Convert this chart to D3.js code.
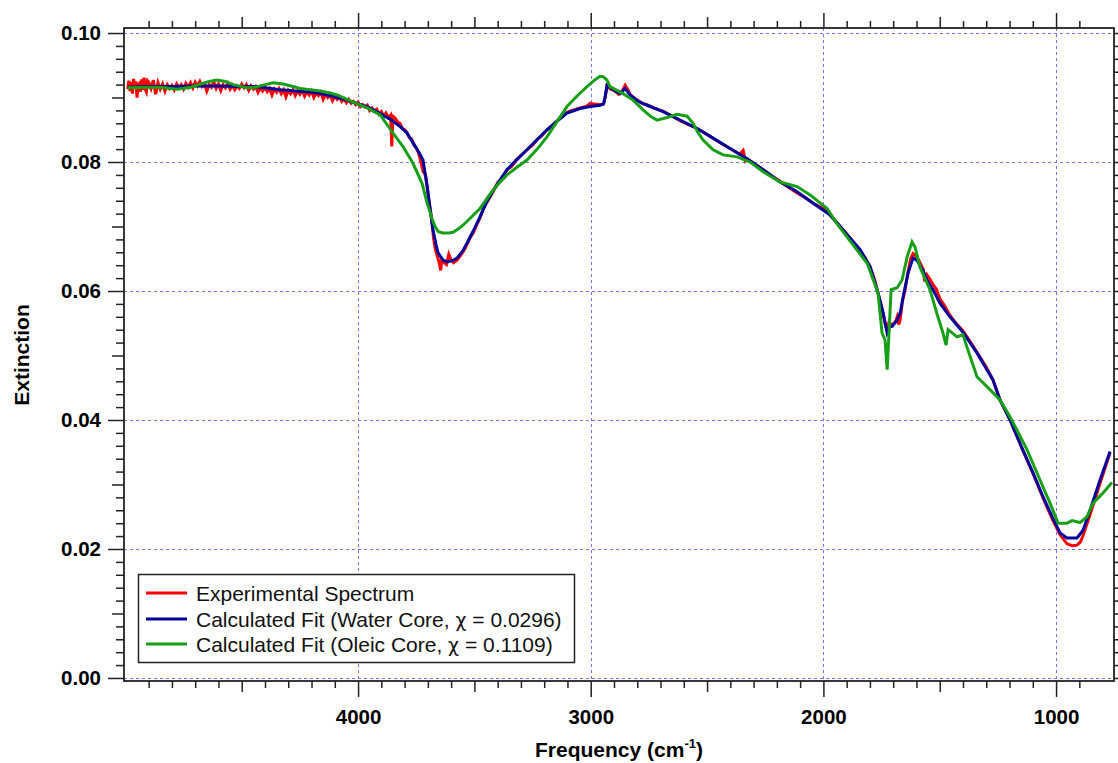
<!DOCTYPE html>
<html>
<head>
<meta charset="utf-8">
<script src="https://cdn.jsdelivr.net/npm/d3@7"></script>
<style>
  body { margin: 0; background: #fff; }
  svg { display: block; }
  text { font-family: "Liberation Sans", Arial, sans-serif; }
</style>
</head>
<body>
<svg id="chart" width="1118" height="763"></svg>
<script>
// Measured extinction spectrum: [frequency (cm^-1), extinction]
const experimental = [
  [4990,.0913],[4985,.0926],[4980,.0910],[4975,.0924],[4970,.0906],[4965,.0929],[4960,.0914],[4955,.0925],
  [4950,.0900],[4945,.0920],[4940,.0922],[4935,.0909],[4930,.0928],[4925,.0912],[4920,.0931],[4915,.0913],
  [4910,.0909],[4905,.0926],[4900,.0924],[4890,.0914],[4880,.0927],[4870,.0905],[4860,.0923],[4850,.0913],[4840,.0921],
  [4830,.0910],[4820,.0920],[4810,.0914],[4800,.0919],[4790,.0912],[4780,.0921],[4770,.0915],[4760,.0920],
  [4750,.0913],[4740,.0922],[4730,.0916],[4720,.0923],[4710,.0915],[4700,.0924],[4690,.0918],[4680,.0925],
  [4670,.0917],[4660,.0921],[4650,.0910],[4640,.0920],[4630,.0916],[4620,.0924],[4610,.0914],[4600,.0921],
  [4590,.0911],[4580,.0920],[4570,.0915],[4560,.0922],[4550,.0913],[4540,.0919],[4530,.0912],[4520,.0918],
  [4510,.0914],[4500,.0921],[4490,.0915],[4480,.0920],[4470,.0911],[4460,.0918],[4450,.0913],[4440,.0917],
  [4430,.0908],[4420,.0915],[4410,.0910],[4400,.0916],[4390,.0909],[4380,.0914],[4370,.0904],[4360,.0913],
  [4350,.0908],[4340,.0914],[4330,.0906],[4320,.0912],[4310,.0901],[4300,.0911],[4290,.0906],[4280,.0912],
  [4270,.0903],[4260,.0910],[4250,.0905],[4240,.0911],[4230,.0902],[4220,.0909],[4210,.0904],[4200,.0910],
  [4190,.0900],[4180,.0907],[4170,.0903],[4160,.0908],[4150,.0897],[4140,.0905],[4130,.0900],[4120,.0904],
  [4110,.0895],[4100,.0902],[4090,.0897],[4080,.0901],[4070,.0894],[4060,.0898],[4050,.0892],[4040,.0897],
  [4030,.0891],[4020,.0894],[4010,.0889],[4000,.0893],[3990,.0886],[3980,.0889],[3970,.0885],[3960,.0888],
  [3950,.0880],[3940,.0884],[3930,.0879],[3920,.0882],[3910,.0874],[3900,.0878],[3890,.0871],[3880,.0876],
  [3870,.0869],[3860,.0873],[3855,.0824],[3850,.0871],[3840,.0868],[3830,.0862],[3820,.0860],[3810,.0852],
  [3800,.0850],[3790,.0846],[3780,.0838],[3770,.0836],[3760,.0826],[3750,.0822],[3740,.0814],[3730,.0800],
  [3720,.0785],[3710,.0780],[3703,.0762],[3695,.0740],[3685,.0715],[3675,.0680],[3668,.0665],[3660,.0655],
  [3650,.0642],[3645,.0632],[3640,.0648],[3630,.0644],[3620,.0641],[3610,.0657],[3600,.0648],[3590,.0644],
  [3575,.0648],[3560,.0655],[3545,.0663],[3532,.0672],[3520,.0682],[3505,.0690],[3490,.0703],[3476,.0713],
  [3460,.0729],[3440,.0741],[3420,.0754],[3400,.0768],[3380,.0775],[3360,.0788],[3340,.0793],[3320,.0803],
  [3300,.0810],[3274,.0819],[3250,.0826],[3230,.0835],[3210,.0841],[3188,.0850],[3170,.0855],[3150,.0862],
  [3130,.0868],[3102,.0877],[3070,.0881],[3046,.0884],[3020,.0886],[3003,.0891],[2985,.0890],[2960,.0889],
  [2945,.0890],[2938,.0900],[2930,.0918],[2915,.0913],[2900,.0911],[2880,.0905],[2865,.0910],[2852,.0919],
  [2840,.0912],[2831,.0905],[2815,.0900],[2800,.0896],[2780,.0891],[2758,.0889],[2730,.0884],[2700,.0880],
  [2689,.0879],[2650,.0871],[2616,.0864],[2580,.0858],[2543,.0852],[2510,.0845],[2474,.0837],[2440,.0829],
  [2401,.0821],[2360,.0812],[2345,.0818],[2335,.0802],[2328,.0805],[2300,.0798],[2259,.0788],[2220,.0778],
  [2186,.0770],[2150,.0761],[2113,.0752],[2080,.0745],[2044,.0736],[2000,.0728],[1971,.0718],[1928,.0700],
  [1880,.0680],[1842,.0662],[1820,.0651],[1799,.0636],[1780,.0618],[1765,.0596],[1750,.0575],[1743,.0563],
  [1735,.0550],[1726,.0540],[1718,.0552],[1710,.0548],[1705,.0548],[1690,.0552],[1683,.0560],[1676,.0548],
  [1670,.0556],[1660,.0585],[1650,.0600],[1636,.0630],[1625,.0650],[1615,.0658],[1605,.0655],[1593,.0650],
  [1580,.0640],[1570,.0633],[1565,.0615],[1555,.0625],[1540,.0617],[1529,.0610],[1515,.0603],[1499,.0588],
  [1480,.0578],[1456,.0562],[1430,.0550],[1400,.0538],[1370,.0522],[1340,.0505],[1300,.0482],[1271,.0462],
  [1241,.0431],[1198,.0401],[1142,.0352],[1099,.0317],[1056,.0279],[1017,.0247],[983,.0222],[953,.0208],
  [930,.0205],[910,.0206],[895,.0211],[884,.0221],[854,.0253],[811,.0302],[768,.0349]
];

// Calculated fit, water core
const waterFit = [
  [4990,.0916],[4900,.0917],[4800,.0917],[4700,.0918],[4600,.0918],[4500,.0917],[4450,.0917],[4400,.0915],
  [4335,.0912],[4270,.0910],[4219,.0909],[4170,.0907],[4133,.0904],[4090,.0900],[4047,.0896],[4000,.0890],
  [3961,.0886],[3905,.0875],[3860,.0866],[3819,.0855],[3790,.0845],[3764,.0830],[3740,.0816],[3721,.0803],
  [3703,.0762],[3690,.0726],[3678,.0695],[3665,.0672],[3656,.0659],[3635,.0648],[3617,.0645],[3595,.0647],
  [3575,.0651],[3550,.0662],[3532,.0674],[3505,.0693],[3476,.0715],[3450,.0736],[3420,.0755],[3390,.0772],
  [3360,.0788],[3320,.0803],[3274,.0819],[3230,.0835],[3188,.0850],[3150,.0862],[3102,.0876],[3046,.0883],
  [3003,.0886],[2960,.0888],[2945,.0890],[2938,.0901],[2930,.0919],[2904,.0912],[2874,.0906],[2852,.0914],
  [2831,.0904],[2800,.0895],[2758,.0888],[2689,.0878],[2616,.0865],[2543,.0852],[2474,.0837],[2401,.0821],
  [2328,.0805],[2259,.0788],[2186,.0769],[2113,.0754],[2044,.0736],[1971,.0718],[1928,.0700],[1880,.0680],
  [1842,.0664],[1799,.0638],[1765,.0597],[1743,.0566],[1726,.0535],[1715,.0545],[1705,.0545],[1683,.0555],
  [1670,.0566],[1657,.0591],[1636,.0628],[1615,.0651],[1600,.0648],[1593,.0645],[1570,.0630],[1555,.0617],
  [1529,.0602],[1499,.0581],[1456,.0560],[1400,.0536],[1340,.0504],[1271,.0462],[1241,.0431],[1198,.0400],
  [1142,.0353],[1099,.0318],[1056,.0281],[1017,.0250],[983,.0225],[953,.0217],[910,.0217],[884,.0229],
  [854,.0260],[811,.0307],[768,.0351]
];

// Calculated fit, oleic core
const oleicFit = [
  [4990,.0915],[4900,.0916],[4850,.0916],[4778,.0913],[4720,.0916],[4692,.0919],[4640,.0925],[4606,.0927],
  [4570,.0925],[4537,.0920],[4477,.0915],[4440,.0916],[4421,.0918],[4365,.0923],[4322,.0921],[4280,.0917],
  [4249,.0914],[4163,.0910],[4120,.0907],[4090,.0904],[4021,.0893],[3961,.0884],[3905,.0873],[3850,.0845],
  [3807,.0824],[3764,.0798],[3725,.0767],[3703,.0736],[3690,.0722],[3682,.0712],[3669,.0700],[3655,.0692],
  [3635,.0690],[3610,.0690],[3592,.0691],[3570,.0696],[3549,.0702],[3506,.0717],[3476,.0728],[3433,.0750],
  [3400,.0765],[3360,.0780],[3320,.0791],[3274,.0803],[3230,.0820],[3188,.0839],[3150,.0860],[3102,.0886],
  [3060,.0902],[3016,.0917],[2980,.0928],[2960,.0933],[2945,.0932],[2930,.0927],[2917,.0917],[2861,.0906],
  [2818,.0896],[2775,.0881],[2740,.0870],[2715,.0865],[2672,.0869],[2629,.0874],[2586,.0871],[2560,.0860],
  [2540,.0846],[2517,.0834],[2474,.0819],[2431,.0811],[2371,.0808],[2315,.0800],[2259,.0785],[2186,.0769],
  [2113,.0762],[2057,.0749],[1984,.0728],[1937,.0702],[1880,.0675],[1812,.0643],[1765,.0597],[1748,.0535],
  [1735,.0524],[1726,.0478],[1718,.0535],[1709,.0602],[1683,.0605],[1662,.0617],[1640,.0653],[1619,.0676],
  [1606,.0668],[1585,.0637],[1542,.0602],[1508,.0560],[1486,.0535],[1473,.0516],[1464,.0540],[1426,.0529],
  [1400,.0532],[1383,.0513],[1340,.0467],[1284,.0447],[1241,.0431],[1198,.0405],[1125,.0354],[1069,.0307],
  [1026,.0271],[991,.0240],[953,.0240],[931,.0244],[897,.0241],[867,.0250],[841,.0271],[798,.0287],[760,.0303]
];

const seriesNames = [
  "Experimental Spectrum",
  "Calculated Fit (Water Core, \u03C7 = 0.0296)",
  "Calculated Fit (Oleic Core, \u03C7 = 0.1109)"
];
const seriesColors = ["#ff0000", "#00009c", "#17a017"];

// Axis ticks
const freqMajorTicks = [4000, 3000, 2000, 1000];
const freqMidTicks = [4500, 3500, 2500, 1500];
const extMajorTicks = [0.00, 0.02, 0.04, 0.06, 0.08, 0.10];
const extMidTicks = [0.01, 0.03, 0.05, 0.07, 0.09];
const freqMinorTicks = d3.range(9, 50).filter(i => i % 5 !== 0).map(i => i * 100);
const extMinorTicks = d3.range(1, 50).filter(i => i % 5 !== 0).map(i => i / 500);

const svg = d3.select("#chart");
svg.append("rect").attr("width", 1118).attr("height", 763).attr("fill", "#fff");

const L = 124, R = 1114, T = 28, B = 681;
const x = d3.scaleLinear().domain([5006, 751]).range([L, R]);
const y = d3.scaleLinear().domain([-0.00047, 0.10078]).range([B, T]);

// Dotted grid
const grid = svg.append("g")
  .attr("stroke", "#7474ff").attr("stroke-width", 1).attr("stroke-dasharray", "3,3");
grid.selectAll("line.v").data(freqMajorTicks).join("line")
  .attr("x1", d => Math.round(x(d)) + 0.5).attr("x2", d => Math.round(x(d)) + 0.5)
  .attr("y1", T).attr("y2", B);
grid.selectAll("line.h").data(extMajorTicks).join("line")
  .attr("y1", d => Math.round(y(d)) + 0.5).attr("y2", d => Math.round(y(d)) + 0.5)
  .attr("x1", L).attr("x2", R);

// Spectra
svg.append("clipPath").attr("id", "plotClip")
  .append("rect").attr("x", L).attr("y", T).attr("width", R - L).attr("height", B - T);
const line = d3.line().x(d => x(d[0])).y(d => y(d[1]));
const plot = svg.append("g").attr("clip-path", "url(#plotClip)");
[experimental, waterFit, oleicFit].forEach((series, i) => {
  plot.append("path").datum(series)
    .attr("d", line)
    .attr("fill", "none")
    .attr("stroke", seriesColors[i])
    .attr("stroke-width", 3)
    .attr("stroke-linejoin", "miter");
});

// Axes
const axisColor = "#222";
function drawAxis(axisGen, tx, ty, values, size, labelled, fmt, pad) {
  const g = svg.append("g").attr("transform", `translate(${tx},${ty})`)
    .call(axisGen.tickValues(values).tickSize(size).tickSizeOuter(0)
      .tickPadding(pad || 3).tickFormat(labelled ? fmt : () => ""));
  g.select(".domain").remove();
  g.selectAll(".tick line").attr("stroke", axisColor).attr("stroke-width", 1.5);
  g.selectAll(".tick text")
    .attr("fill", "#000")
    .style("font-family", '"Liberation Sans", Arial, sans-serif')
    .style("font-size", "20.5px")
    .style("font-weight", "bold");
  return g;
}
const fFmt = d3.format("d");
const eFmt = d3.format(".2f");

// bottom
drawAxis(d3.axisBottom(x), 0, B, freqMajorTicks, 16, true, fFmt, 12);
drawAxis(d3.axisBottom(x), 0, B, freqMidTicks, 11, false);
drawAxis(d3.axisBottom(x), 0, B, freqMinorTicks, 7, false);
// top
drawAxis(d3.axisTop(x), 0, T, freqMajorTicks, 15, false);
drawAxis(d3.axisTop(x), 0, T, freqMidTicks, 11, false);
drawAxis(d3.axisTop(x), 0, T, freqMinorTicks, 7, false);
// left
drawAxis(d3.axisLeft(y), L, 0, extMajorTicks, 16, true, eFmt, 7);
drawAxis(d3.axisLeft(y), L, 0, extMidTicks, 12, false);
drawAxis(d3.axisLeft(y), L, 0, extMinorTicks, 8, false);
// right
drawAxis(d3.axisRight(y), R, 0, extMajorTicks, 16, false);
drawAxis(d3.axisRight(y), R, 0, extMidTicks, 12, false);
drawAxis(d3.axisRight(y), R, 0, extMinorTicks, 8, false);

// Frame
svg.append("rect")
  .attr("x", L).attr("y", T).attr("width", R - L).attr("height", B - T)
  .attr("fill", "none").attr("stroke", axisColor).attr("stroke-width", 1.8);

// Axis titles
svg.append("text")
  .attr("transform", "translate(29,355) rotate(-90)")
  .attr("text-anchor", "middle")
  .style("font-size", "21px").style("font-weight", "bold")
  .text("Extinction");

const xt = svg.append("text")
  .attr("x", 619).attr("y", 757)
  .attr("text-anchor", "middle")
  .style("font-size", "21px").style("font-weight", "bold");
xt.append("tspan").text("Frequency (cm");
xt.append("tspan").attr("dy", -9).style("font-size", "13px").text("-1");
xt.append("tspan").attr("dy", 9).text(")");

// Legend
const lg = svg.append("g");
lg.append("rect")
  .attr("x", 138.5).attr("y", 574.5).attr("width", 436).attr("height", 88)
  .attr("fill", "#fff").attr("stroke", axisColor).attr("stroke-width", 1.5);
const rowY = [593, 619, 644];
seriesNames.forEach((name, i) => {
  lg.append("line")
    .attr("x1", 146).attr("x2", 187).attr("y1", rowY[i]).attr("y2", rowY[i])
    .attr("stroke", seriesColors[i]).attr("stroke-width", 3);
  const t = lg.append("text")
    .attr("x", 196).attr("y", rowY[i]).attr("dy", "0.36em")
    .style("font-size", "21px")
    .attr("fill", "#111");
  // the Greek chi is set in a face whose glyph has a descender
  name.split("\u03C7").forEach((part, j) => {
    if (j > 0) t.append("tspan").style("font-family", '"DejaVu Sans", sans-serif').style("font-size", "19px").text("\u03C7");
    t.append("tspan").text(part);
  });
});
</script>
</body>
</html>
